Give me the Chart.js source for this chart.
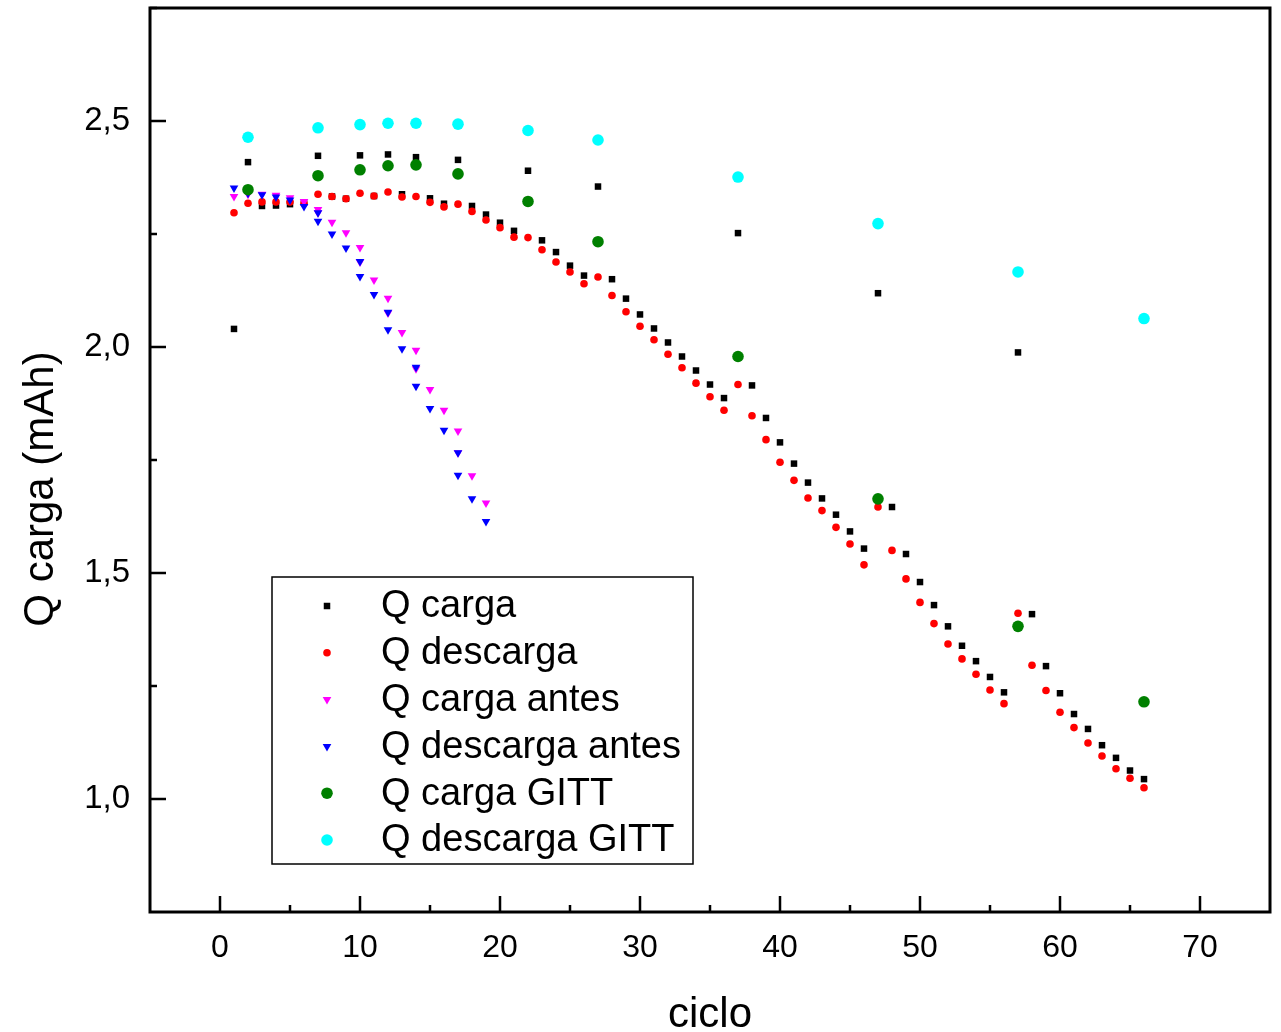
<!DOCTYPE html>
<html>
<head>
<meta charset="utf-8">
<script src="https://cdn.jsdelivr.net/npm/chart.js@4.4.1/dist/chart.umd.min.js"></script>
<style>
  html, body { margin: 0; padding: 0; background: #fff; }
  #wrap { width: 1281px; height: 1032px; }
</style>
</head>
<body>
<div id="wrap"><canvas id="chartQ" width="1281" height="1032"></canvas></div>
<script>
// ciclos (eje x)
const cycles = [1, 2, 3, 4, 5, 6, 7, 8, 9, 10, 11, 12, 13, 14, 15, 16, 17, 18, 19, 20,
  21, 22, 23, 24, 25, 26, 27, 28, 29, 30, 31, 32, 33, 34, 35, 36, 37, 38, 39, 40,
  41, 42, 43, 44, 45, 46, 47, 48, 49, 50, 51, 52, 53, 54, 55, 56, 57, 58, 59, 60,
  61, 62, 63, 64, 65, 66];

const qCarga = [2.04, 2.409, 2.312, 2.313, 2.316, 2.32, 2.423, 2.333, 2.328, 2.424,
  2.334, 2.426, 2.338, 2.42, 2.329, 2.317, 2.414, 2.312, 2.293, 2.275,
  2.257, 2.39, 2.236, 2.21, 2.18, 2.158, 2.355, 2.15, 2.107, 2.072,
  2.041, 2.01, 1.979, 1.948, 1.917, 1.887, 2.252, 1.915, 1.843, 1.789,
  1.742, 1.7, 1.665, 1.629, 1.592, 1.554, 2.119, 1.646, 1.542, 1.48,
  1.429, 1.382, 1.339, 1.305, 1.27, 1.236, 1.988, 1.409, 1.294, 1.234,
  1.188, 1.155, 1.119, 1.091, 1.063, 1.044];

const qDescarga = [2.297, 2.318, 2.321, 2.321, 2.321, 2.318, 2.338, 2.333, 2.328, 2.34,
  2.334, 2.343, 2.332, 2.333, 2.32, 2.31, 2.316, 2.3, 2.281, 2.264,
  2.243, 2.242, 2.215, 2.188, 2.166, 2.14, 2.155, 2.114, 2.078, 2.046,
  2.016, 1.984, 1.954, 1.92, 1.89, 1.86, 1.917, 1.848, 1.795, 1.745,
  1.705, 1.666, 1.638, 1.601, 1.564, 1.518, 1.646, 1.55, 1.487, 1.435,
  1.388, 1.343, 1.31, 1.276, 1.241, 1.211, 1.411, 1.296, 1.24, 1.192,
  1.158, 1.124, 1.095, 1.067, 1.046, 1.025];

// ciclos "antes" (hay ciclos repetidos)
const antesCycles = [1, 2, 3, 4, 5, 6, 7, 7, 8, 9, 10, 10, 11, 12, 12, 13, 14, 14, 15, 16, 17, 17, 18, 19];
const qCargaAntes = [2.333, 2.338, 2.338, 2.336, 2.33, 2.322, 2.304, 2.297, 2.276, 2.253, 2.22, 2.188,
  2.148, 2.108, 2.075, 2.032, 1.993, 1.952, 1.906, 1.86, 1.814, 1.766, 1.715, 1.655];
const qDescargaAntes = [2.352, 2.34, 2.337, 2.332, 2.325, 2.311, 2.297, 2.278, 2.25, 2.219, 2.189, 2.156,
  2.116, 2.077, 2.038, 1.996, 1.955, 1.913, 1.864, 1.816, 1.766, 1.716, 1.664, 1.614];

// GITT
const gittCycles = [2, 7, 10, 12, 14, 17, 22, 27, 37, 47, 57, 66];
const qCargaGitt = [2.348, 2.379, 2.392, 2.401, 2.403, 2.383, 2.322, 2.233, 1.979, 1.664, 1.382, 1.215];
const qDescargaGitt = [2.464, 2.485, 2.492, 2.495, 2.495, 2.493, 2.479, 2.458, 2.376, 2.273, 2.166, 2.063];

const xTicks = [0, 10, 20, 30, 40, 50, 60, 70];
const yTicks = [1.0, 1.5, 2.0, 2.5];

const FONT = 'Liberation Sans, Arial, Helvetica, sans-serif';

function pts (xs, ys) {
  return xs.map((x, i) => ({ x: x, y: ys[i] }));
}

// marco + ticks hacia dentro + titulos
const frameTicks = {
  id: 'frameTicks',
  afterDatasetsDraw (chart) {
    const ctx = chart.ctx;
    const a = chart.chartArea;
    const xs = chart.scales.x;
    const ys = chart.scales.y;
    ctx.save();
    ctx.strokeStyle = '#000';
    ctx.lineWidth = 3;
    ctx.strokeRect(a.left, a.top, a.right - a.left, a.bottom - a.top);

    ctx.lineWidth = 2.5;
    ctx.beginPath();
    for (let v = 0; v <= 70; v += 5) {
      const px = Math.round(xs.getPixelForValue(v));
      const len = v % 10 === 0 ? 16 : 7;
      ctx.moveTo(px, a.bottom);
      ctx.lineTo(px, a.bottom - len);
    }
    for (let v = 1.0; v <= 2.76; v += 0.25) {
      const py = Math.round(ys.getPixelForValue(v));
      const len = Math.abs(v * 2 - Math.round(v * 2)) < 1e-6 ? 16 : 7;
      ctx.moveTo(a.left, py);
      ctx.lineTo(a.left + len, py);
    }
    ctx.stroke();

    // titulos de ejes
    ctx.fillStyle = '#000';
    ctx.font = '42px ' + FONT;
    ctx.textAlign = 'center';
    ctx.textBaseline = 'alphabetic';
    ctx.fillText('ciclo', (a.left + a.right) / 2, 1027);
    ctx.translate(53, 489);
    ctx.rotate(-Math.PI / 2);
    ctx.fillText('Q carga (mAh)', 0, 0);
    ctx.restore();
  }
};

// leyenda dentro del grafico
const boxLegend = {
  id: 'boxLegend',
  afterDraw (chart) {
    const ctx = chart.ctx;
    const bx = 272, by = 577, bw = 421, bh = 287;
    ctx.save();
    ctx.fillStyle = '#fff';
    ctx.fillRect(bx, by, bw, bh);
    ctx.strokeStyle = '#000';
    ctx.lineWidth = 1.5;
    ctx.strokeRect(bx, by, bw, bh);
    ctx.font = '38px ' + FONT;
    ctx.textAlign = 'left';
    ctx.textBaseline = 'middle';
    chart.data.datasets.forEach((ds, i) => {
      const cy = 606 + i * 46.8;
      ctx.fillStyle = ds.backgroundColor;
      ctx.strokeStyle = ds.backgroundColor;
      Chart.helpers.drawPoint(ctx, {
        pointStyle: ds.pointStyle,
        rotation: ds.rotation || 0,
        radius: ds.pointRadius,
        borderWidth: 0
      }, 327, cy);
      ctx.fillStyle = '#000';
      ctx.fillText(ds.label, 381, cy + 1);
    });
    ctx.restore();
  }
};

function noPad (scale) {
  scale.paddingTop = 0;
  scale.paddingBottom = 0;
  scale.paddingLeft = 0;
  scale.paddingRight = 0;
}

function chartQ () {
  const ctx = document.getElementById('chartQ');
  new Chart(ctx, {
    type: 'scatter',
    data: {
      datasets: [
        { label: 'Q carga', data: pts(cycles, qCarga), pointStyle: 'rect', pointRadius: 4.6,
          backgroundColor: '#000000', borderWidth: 0, order: 6 },
        { label: 'Q descarga', data: pts(cycles, qDescarga), pointStyle: 'circle', pointRadius: 3.8,
          backgroundColor: '#ff0000', borderWidth: 0, order: 5 },
        { label: 'Q carga antes', data: pts(antesCycles, qCargaAntes), pointStyle: 'triangle', rotation: 180,
          pointRadius: 5, backgroundColor: '#ff00ff', borderWidth: 0, order: 4 },
        { label: 'Q descarga antes', data: pts(antesCycles, qDescargaAntes), pointStyle: 'triangle', rotation: 180,
          pointRadius: 5, backgroundColor: '#0000ff', borderWidth: 0, order: 3 },
        { label: 'Q carga GITT', data: pts(gittCycles, qCargaGitt), pointStyle: 'circle', pointRadius: 5.8,
          backgroundColor: '#008000', borderWidth: 0, order: 2 },
        { label: 'Q descarga GITT', data: pts(gittCycles, qDescargaGitt), pointStyle: 'circle', pointRadius: 5.8,
          backgroundColor: '#00ffff', borderWidth: 0, order: 1 }
      ]
    },
    options: {
      responsive: false,
      animation: false,
      devicePixelRatio: 1,
      layout: { padding: { top: 8, right: 11, left: 0, bottom: 0 } },
      plugins: {
        legend: { display: false },
        tooltip: { enabled: false }
      },
      scales: {
        x: {
          type: 'linear',
          min: -5,
          max: 75,
          afterBuildTicks: (scale) => { scale.ticks = xTicks.map(v => ({ value: v })); },
          afterFit: (scale) => { scale.height = 120; noPad(scale); },
          grid: { display: false, drawTicks: false },
          border: { display: false },
          ticks: {
            color: '#000',
            padding: 17,
            maxRotation: 0,
            autoSkip: false,
            font: { family: FONT, size: 32 }
          }
        },
        y: {
          type: 'linear',
          min: 0.75,
          max: 2.75,
          afterBuildTicks: (scale) => { scale.ticks = yTicks.map(v => ({ value: v })); },
          afterFit: (scale) => { scale.width = 150; noPad(scale); },
          grid: { display: false, drawTicks: false },
          border: { display: false },
          ticks: {
            color: '#000',
            padding: 20,
            autoSkip: false,
            font: { family: FONT, size: 33 },
            callback: (v) => v.toFixed(1).replace('.', ',')
          }
        }
      }
    },
    plugins: [frameTicks, boxLegend]
  });
}

chartQ();
</script>
</body>
</html>
